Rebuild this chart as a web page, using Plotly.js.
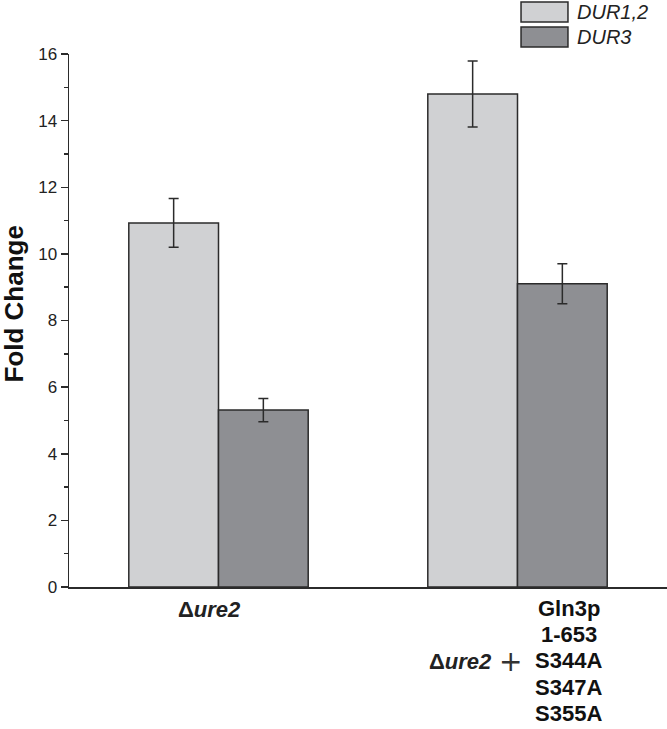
<!DOCTYPE html>
<html>
<head>
<meta charset="utf-8">
<script src="https://cdn.plot.ly/plotly-3.0.1.min.js"></script>
<style>html,body{margin:0;padding:0;background:#fff;}#chart{width:667px;height:729px;}</style>
</head>
<body>
<div id="chart"></div>
<script>
// Data
const categories = ['Δure2', 'Δure2 + Gln3p 1-653 S344A S347A S355A'];
const seriesNames = ['DUR1,2', 'DUR3'];
const dur12 = [10.93, 14.8];
const dur12Err = [0.73, 0.99];
const dur3 = [5.31, 9.1];
const dur3Err = [0.35, 0.6];
const yTicks = [0, 2, 4, 6, 8, 10, 12, 14, 16];
const label2Parts = ['Gln3p', '1-653', 'S344A', 'S347A', 'S355A'];

const colors = ['#d0d1d3', '#8e8f93'];
const edge = '#2b2b2b';
const font = 'Liberation Sans, Arial, sans-serif';

function barTrace(name, y, err, color) {
  return {
    type: 'bar', name: name, x: categories, y: y,
    marker: {color: color, line: {color: edge, width: 1.5}},
    error_y: {type: 'data', array: err, visible: true, color: edge, thickness: 1.5, width: 5},
    showlegend: false, hoverinfo: 'skip'
  };
}

const data = [
  barTrace(seriesNames[0], dur12, dur12Err, colors[0]),
  barTrace(seriesNames[1], dur3, dur3Err, colors[1])
];

const annotations = [];
// y title
annotations.push({
  xref: 'paper', yref: 'paper', x: 0, y: 0.5, xshift: -56, yshift: 16,
  text: '<b>Fold Change</b>', textangle: -90, showarrow: false,
  font: {family: font, size: 26, color: '#111'}, xanchor: 'center', yanchor: 'middle'
});
// x label 1
annotations.push({
  xref: 'x', yref: 'paper', x: categories[0], y: 0, xshift: -9, yshift: -22,
  text: '<b>Δ<i>ure2</i></b>', showarrow: false,
  font: {family: font, size: 22, color: '#222'}, xanchor: 'center', yanchor: 'middle'
});
// x label 2 stack
label2Parts.forEach((t, i) => {
  annotations.push({
    xref: 'x', yref: 'paper', x: categories[1], y: 0, xshift: 51, yshift: -21 - i * 26.4,
    text: '<b>' + t + '</b>', showarrow: false,
    font: {family: font, size: 22, color: '#111'}, xanchor: 'center', yanchor: 'middle'
  });
});
annotations.push({
  xref: 'x', yref: 'paper', x: categories[1], y: 0, xshift: -24, yshift: -74,
  text: '<b>Δ<i>ure2</i></b>', showarrow: false,
  font: {family: font, size: 22, color: '#222'}, xanchor: 'right', yanchor: 'middle'
});
annotations.push({
  xref: 'x', yref: 'paper', x: categories[1], y: 0, xshift: -7, yshift: -74,
  text: '+', showarrow: false,
  font: {family: 'DejaVu Sans, sans-serif', size: 28, color: '#333'}, xanchor: 'center', yanchor: 'middle'
});

// legend (drawn boxes)
const shapes = [];
const legY = [[1.0600, 1.0976], [1.0131, 1.0507]];
seriesNames.forEach((n, i) => {
  shapes.push({
    type: 'rect', xref: 'paper', yref: 'paper', x0: 0.7559, x1: 0.8344, y0: legY[i][0], y1: legY[i][1],
    fillcolor: colors[i], line: {color: edge, width: 1.5}
  });
  annotations.push({
    xref: 'paper', yref: 'paper', x: 0.846, y: (legY[i][0] + legY[i][1]) / 2,
    text: '<i>' + n + '</i>', showarrow: false, xanchor: 'left', yanchor: 'middle',
    font: {family: font, size: 20, color: '#222'}
  });
});

const layout = {
  width: 667, height: 729,
  margin: {l: 69, r: 0, t: 54, b: 142, pad: 0},
  paper_bgcolor: '#fff', plot_bgcolor: '#fff',
  barmode: 'group', bargap: 0.4, bargroupgap: 0,
  font: {family: font, color: '#222'},
  xaxis: {
    type: 'category', range: [-0.5, 1.5], showticklabels: false, ticks: '',
    showline: true, linecolor: edge, linewidth: 1.5, showgrid: false, zeroline: false, fixedrange: true
  },
  yaxis: {
    range: [0, 16], tickvals: yTicks, ticktext: yTicks.map(String),
    ticks: 'outside', ticklen: 7, tickwidth: 1.5, tickcolor: edge,
    minor: {dtick: 1, ticks: 'outside', ticklen: 4, tickwidth: 1.5, tickcolor: edge, showgrid: false},
    showline: true, linecolor: edge, linewidth: 1.5, showgrid: false, zeroline: false,
    tickfont: {family: font, size: 17, color: '#222'}, fixedrange: true
  },
  annotations: annotations,
  shapes: shapes,
  showlegend: false
};

Plotly.newPlot('chart', data, layout, {displayModeBar: false, staticPlot: true});
</script>
</body>
</html>
